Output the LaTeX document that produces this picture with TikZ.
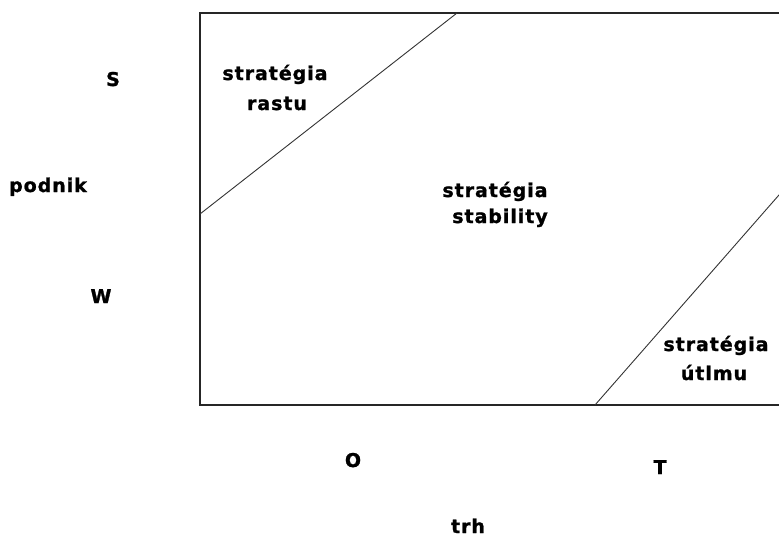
\documentclass[tikz,border=0pt]{standalone}
\usepackage{fontspec}
\newfontfamily\lblfont[LetterSpace=5,FakeBold=1.2]{DejaVu Sans Bold}
\begin{document}
\begin{tikzpicture}[x=1pt,y=-1pt,
  lbl/.style={font=\lblfont\fontsize{19}{21}\selectfont, inner sep=0pt, anchor=base},
  frame/.style={line width=1.6pt, black!85},
  divider/.style={line width=0.9pt, black!80}]
\useasboundingbox (0,0) rectangle (779,541);
\begin{scope}
\clip (0,0) rectangle (779,541);
% frame (right side continues past the picture edge)
\coordinate (tl) at (200,13);
\coordinate (bl) at (200,405);
\coordinate (tr) at (790,13);
\coordinate (br) at (790,405);
\draw[frame] (tr) -- (tl) -- (bl) -- (br);
% dividing lines
\coordinate (a1) at (200,214);
\coordinate (a2) at (457,13);
\draw[divider] (a1) -- (a2);
\coordinate (b1) at (595,405);
\coordinate (b2) at (790,182.4);
\draw[divider] (b1) -- (b2);
\end{scope}
% region labels
\node[lbl] (r1) at (275,80) {stratégia};
\node[lbl] (r2) at (277,110) {rastu};
\node[lbl] (s1) at (495,197) {stratégia};
\node[lbl] (s2) at (500,223) {stability};
\node[lbl] (u1) at (716,351) {stratégia};
\node[lbl] (u2) at (714,380) {útlmu};
% axis labels
\node[lbl] (S) at (113,86) {S};
\node[lbl] (podnik) at (48,192) {podnik};
\node[lbl] (W) at (101,303) {W};
\node[lbl] (O) at (353,467) {O};
\node[lbl] (T) at (660,474) {T};
\node[lbl] (trh) at (468,533) {trh};
\end{tikzpicture}
\end{document}
